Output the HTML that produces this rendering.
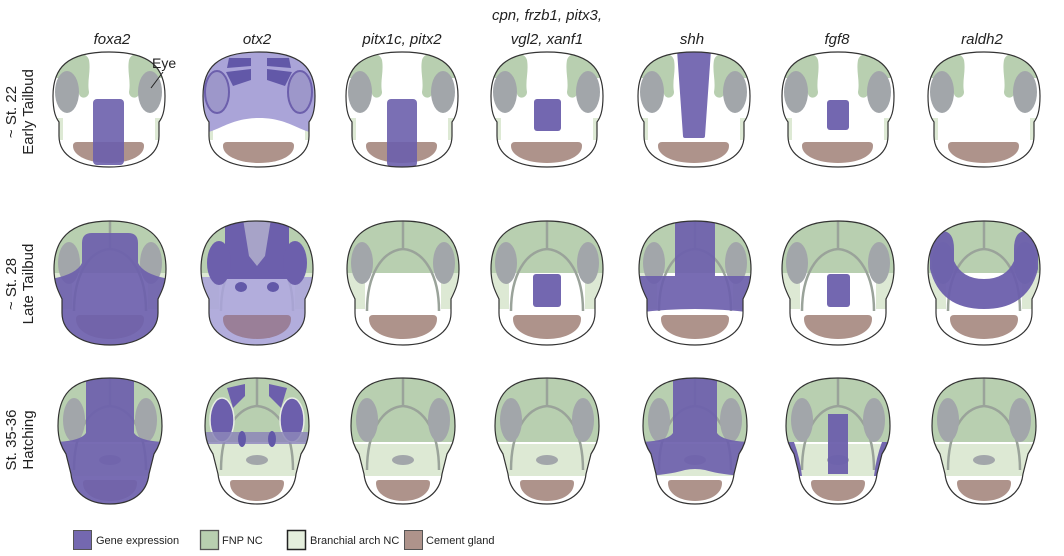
<!DOCTYPE html>
<html><head><meta charset="utf-8"><style>
html,body{margin:0;padding:0;background:#fff;}
svg{display:block;font-family:"Liberation Sans",sans-serif;}
</style></head><body>
<svg width="1064" height="556" viewBox="0 0 1064 556" xmlns="http://www.w3.org/2000/svg">
<defs>
<path id="oE" d="M0,0 C42,0 56,16 56,44 C56,60 53,66 50,70 L50,84 C50,104 30,115 0,115 C-30,115 -50,104 -50,84 L-50,70 C-53,66 -56,60 -56,44 C-56,16 -42,0 0,0 Z"/>
<path id="oL" d="M0,0 C42,0 56,20 56,48 C56,62 52,70 48,78 L48,92 C48,112 27,124 0,124 C-27,124 -48,112 -48,92 L-48,78 C-52,70 -56,62 -56,48 C-56,20 -42,0 0,0 Z"/>
<path id="oH" d="M0,0 C40,0 52,18 52,48 C52,62 48,70 44,76 L39,96 C37,115 22,126 0,126 C-22,126 -37,115 -39,96 L-44,76 C-48,70 -52,62 -52,48 C-52,18 -40,0 0,0 Z"/>
<clipPath id="cE"><use href="#oE"/></clipPath>
<clipPath id="cL"><use href="#oL"/></clipPath>
<clipPath id="cH"><use href="#oH"/></clipPath>
<g id="bE">
 <rect x="-60" y="-2" width="120" height="120" fill="#fff"/>
 <path d="M-38,2 C-28,0 -22,2 -20,8 C-18,20 -22,28 -20,40 C-20,46 -28,48 -30,42 C-32,32 -40,26 -52,26 L-58,22 C-54,10 -46,4 -38,2Z" fill="#b8cfb0"/>
 <path d="M38,2 C28,0 22,2 20,8 C18,20 22,28 20,40 C20,46 28,48 30,42 C32,32 40,26 52,26 L58,22 C54,10 46,4 38,2Z" fill="#b8cfb0"/>
 <rect x="-52" y="66" width="6" height="22" fill="#dde9d4"/>
 <rect x="46" y="66" width="6" height="22" fill="#dde9d4"/>
 <path d="M-36,94 Q-36,90 -32,90 L31,90 Q35,90 35,94 C35,104 20,111 0,111 C-20,111 -36,104 -36,94Z" fill="#ae938b"/>
</g>
<g id="eE" fill="#a2a6aa"><ellipse cx="-42" cy="40" rx="12" ry="21"/><ellipse cx="41" cy="40" rx="12" ry="21"/></g>
<g id="bL">
 <rect x="-60" y="-2" width="120" height="130" fill="#fff"/>
 <path d="M-60,-2 L60,-2 L60,62 L38,62 L38,52 L-38,52 L-38,62 L-60,62Z" fill="#b8cfb0"/>
 <rect x="-60" y="52" width="22" height="36" fill="#dde9d4"/>
 <rect x="38" y="52" width="22" height="36" fill="#dde9d4"/>
 <path d="M-34,98 Q-34,94 -30,94 L30,94 Q34,94 34,98 C34,110 19,118 0,118 C-19,118 -34,110 -34,98Z" fill="#ae938b"/>
 <path d="M0,0 L0,28 M0,28 C-22,30 -36,55 -36,90 M0,28 C22,30 36,55 36,90" stroke="#9aa39a" stroke-width="2.5" fill="none"/>
</g>
<g id="eL" fill="#a2a6aa"><ellipse cx="-41" cy="42" rx="11" ry="21"/><ellipse cx="41" cy="42" rx="11" ry="21"/></g>
<g id="bH">
 <rect x="-60" y="-2" width="120" height="132" fill="#fff"/>
 <rect x="-60" y="-2" width="120" height="66" fill="#b8cfb0"/>
 <rect x="-60" y="66" width="120" height="32" fill="#dde9d4"/>
 <path d="M0,0 L0,28 M0,28 C-22,30 -36,55 -36,92 M0,28 C22,30 36,55 36,92" stroke="#9aa39a" stroke-width="2.5" fill="none"/>
 <ellipse cx="0" cy="82" rx="11" ry="5" fill="#a2a6aa"/>
 <path d="M-27,105 Q-27,102 -24,102 L24,102 Q27,102 27,105 C27,116 15,123 0,123 C-15,123 -27,116 -27,105Z" fill="#ae938b"/>
</g>
<g id="eH" fill="#a2a6aa"><ellipse cx="-36" cy="42" rx="11" ry="22"/><ellipse cx="36" cy="42" rx="11" ry="22"/></g>
</defs>

<g font-style="italic" font-size="15" fill="#222" text-anchor="middle">
<text x="112" y="44">foxa2</text>
<text x="257" y="44">otx2</text>
<text x="402" y="44">pitx1c, pitx2</text>
<text x="547" y="20">cpn, frzb1, pitx3,</text>
<text x="547" y="44">vgl2, xanf1</text>
<text x="692" y="44">shh</text>
<text x="837" y="44">fgf8</text>
<text x="982" y="44">raldh2</text>
</g>
<g font-size="15" fill="#222" text-anchor="middle">
<text transform="translate(16,112) rotate(-90)">~ St. 22</text>
<text transform="translate(33,112) rotate(-90)">Early Tailbud</text>
<text transform="translate(16,284) rotate(-90)">~ St. 28</text>
<text transform="translate(33,284) rotate(-90)">Late Tailbud</text>
<text transform="translate(16,440) rotate(-90)">St. 35-36</text>
<text transform="translate(33,440) rotate(-90)">Hatching</text>
</g>

<!-- ROW 1 -->
<g transform="translate(109,52)"><g clip-path="url(#cE)"><use href="#bE"/><use href="#eE"/>
<rect x="-16" y="47" width="31" height="66" rx="4" fill="#6c5fac" opacity="0.9"/></g><use href="#oE" fill="none" stroke="#333" stroke-width="1.2"/></g>
<text x="152" y="68" font-size="14" fill="#222">Eye</text>
<line x1="163" y1="72" x2="151" y2="88" stroke="#222" stroke-width="1"/>

<g transform="translate(259,52)"><g clip-path="url(#cE)"><use href="#bE"/>
<path d="M-60,-2 L60,-2 L60,82 C40,80 30,66 0,66 C-30,66 -40,80 -60,82Z" fill="#aaa4d8"/>
<ellipse cx="-42" cy="40" rx="12" ry="21" fill="#9d97ca" stroke="#6c5fac" stroke-width="2"/>
<ellipse cx="41" cy="40" rx="12" ry="21" fill="#9d97ca" stroke="#6c5fac" stroke-width="2"/>
<path d="M-30,6 L-8,6 L-8,14 L-32,16Z M-33,20 L-8,17 L-8,28 L-26,34Z M30,6 L8,6 L8,14 L32,16Z M33,20 L8,17 L8,28 L26,34Z" fill="#6258a8"/>
</g><use href="#oE" fill="none" stroke="#333" stroke-width="1.2"/></g>

<g transform="translate(402,52)"><g clip-path="url(#cE)"><use href="#bE"/><use href="#eE"/>
<rect x="-15" y="47" width="30" height="68" rx="4" fill="#6c5fac" opacity="0.9"/></g><use href="#oE" fill="none" stroke="#333" stroke-width="1.2"/></g>

<g transform="translate(547,52)"><g clip-path="url(#cE)"><use href="#bE"/><use href="#eE"/>
<rect x="-13" y="47" width="27" height="32" rx="3" fill="#6c5fac" opacity="0.95"/></g><use href="#oE" fill="none" stroke="#333" stroke-width="1.2"/></g>

<g transform="translate(694,52)"><g clip-path="url(#cE)"><use href="#bE"/><use href="#eE"/>
<path d="M-17,-2 L17,-2 L11,84 Q11,86 9,86 L-9,86 Q-11,86 -11,84Z" fill="#6c5fac" opacity="0.92"/></g><use href="#oE" fill="none" stroke="#333" stroke-width="1.2"/></g>

<g transform="translate(838,52)"><g clip-path="url(#cE)"><use href="#bE"/><use href="#eE"/>
<rect x="-11" y="48" width="22" height="30" rx="3" fill="#6c5fac" opacity="0.95"/></g><use href="#oE" fill="none" stroke="#333" stroke-width="1.2"/></g>

<g transform="translate(984,52)"><g clip-path="url(#cE)"><use href="#bE"/><use href="#eE"/></g><use href="#oE" fill="none" stroke="#333" stroke-width="1.2"/></g>

<!-- ROW 2 -->
<g transform="translate(110,221)"><g clip-path="url(#cL)"><use href="#bL"/><use href="#eL"/>
<path d="M-28,22 Q-28,12 -18,12 L18,12 Q28,12 28,22 L28,42 Q34,54 60,58 L60,130 L-60,130 L-60,58 Q-34,54 -28,42Z" fill="#6c5fac" opacity="0.92"/></g><use href="#oL" fill="none" stroke="#333" stroke-width="1.2"/></g>

<g transform="translate(257,221)"><g clip-path="url(#cL)"><use href="#bL"/>
<rect x="-60" y="56" width="120" height="72" fill="#aaa4d8" opacity="0.9"/>
<path d="M-32,-2 L32,-2 L32,58 L-32,58Z" fill="#6c5fac"/>
<path d="M-14,-2 L14,-2 L8,35 L0,45 L-8,35Z" fill="#a7a3c8"/>
<ellipse cx="-38" cy="42" rx="12" ry="22" fill="#6c5fac"/><ellipse cx="38" cy="42" rx="12" ry="22" fill="#6c5fac"/>
<ellipse cx="-16" cy="66" rx="6" ry="5" fill="#6258a8"/><ellipse cx="16" cy="66" rx="6" ry="5" fill="#6258a8"/>
<path d="M-34,98 Q-34,94 -30,94 L30,94 Q34,94 34,98 C34,110 19,118 0,118 C-19,118 -34,110 -34,98Z" fill="#9a7f98"/>
</g><use href="#oL" fill="none" stroke="#333" stroke-width="1.2"/></g>

<g transform="translate(403,221)"><g clip-path="url(#cL)"><use href="#bL"/><use href="#eL"/></g><use href="#oL" fill="none" stroke="#333" stroke-width="1.2"/></g>

<g transform="translate(547,221)"><g clip-path="url(#cL)"><use href="#bL"/><use href="#eL"/>
<rect x="-14" y="53" width="28" height="33" rx="3" fill="#6c5fac" opacity="0.95"/></g><use href="#oL" fill="none" stroke="#333" stroke-width="1.2"/></g>

<g transform="translate(695,221)"><g clip-path="url(#cL)"><use href="#bL"/><use href="#eL"/>
<path d="M-20,-2 L20,-2 L20,55 L60,55 L60,92 Q30,88 0,88 Q-30,88 -60,92 L-60,55 L-20,55Z" fill="#6c5fac" opacity="0.92"/></g><use href="#oL" fill="none" stroke="#333" stroke-width="1.2"/></g>

<g transform="translate(838,221)"><g clip-path="url(#cL)"><use href="#bL"/><use href="#eL"/>
<rect x="-11" y="53" width="23" height="33" rx="3" fill="#6c5fac" opacity="0.95"/></g><use href="#oL" fill="none" stroke="#333" stroke-width="1.2"/></g>

<g transform="translate(984,221)"><g clip-path="url(#cL)"><use href="#bL"/><use href="#eL"/>
<path d="M-54,25 Q-54,10 -42,10 Q-30,10 -30,28 L-30,40 Q-22,58 0,58 Q22,58 30,40 L30,28 Q30,10 42,10 Q54,10 54,25 L54,48 Q44,88 0,88 Q-44,88 -54,48Z" fill="#6c5fac" opacity="0.95"/></g><use href="#oL" fill="none" stroke="#333" stroke-width="1.2"/></g>

<!-- ROW 3 -->
<g transform="translate(110,378)"><g clip-path="url(#cH)"><use href="#bH"/><use href="#eH"/>
<path d="M-24,-2 L24,-2 L24,55 Q30,64 60,64 L60,130 L-60,130 L-60,64 Q-30,64 -24,55Z" fill="#6c5fac" opacity="0.92"/></g><use href="#oH" fill="none" stroke="#333" stroke-width="1.2"/></g>

<g transform="translate(257,378)"><g clip-path="url(#cH)"><use href="#bH"/>
<ellipse cx="-35" cy="42" rx="12" ry="22" fill="#6c5fac" stroke="#e8eee4" stroke-width="1.5"/>
<ellipse cx="35" cy="42" rx="12" ry="22" fill="#6c5fac" stroke="#e8eee4" stroke-width="1.5"/>
<path d="M-30,10 L-12,6 L-12,18 L-24,30Z M30,10 L12,6 L12,18 L24,30Z" fill="#6c5fac"/>
<rect x="-60" y="54" width="120" height="12" fill="#8c86b8" opacity="0.85"/>
<ellipse cx="-15" cy="61" rx="4" ry="8" fill="#6258a8"/><ellipse cx="15" cy="61" rx="4" ry="8" fill="#6258a8"/>
</g><use href="#oH" fill="none" stroke="#333" stroke-width="1.2"/></g>

<g transform="translate(403,378)"><g clip-path="url(#cH)"><use href="#bH"/><use href="#eH"/></g><use href="#oH" fill="none" stroke="#333" stroke-width="1.2"/></g>

<g transform="translate(547,378)"><g clip-path="url(#cH)"><use href="#bH"/><use href="#eH"/></g><use href="#oH" fill="none" stroke="#333" stroke-width="1.2"/></g>

<g transform="translate(695,378)"><g clip-path="url(#cH)"><use href="#bH"/><use href="#eH"/>
<path d="M-22,-2 L22,-2 L22,55 Q28,64 60,64 L60,98 Q30,98 10,92 Q0,90 -10,92 Q-30,98 -60,98 L-60,64 Q-28,64 -22,55Z" fill="#6c5fac" opacity="0.92"/></g><use href="#oH" fill="none" stroke="#333" stroke-width="1.2"/></g>

<g transform="translate(838,378)"><g clip-path="url(#cH)"><use href="#bH"/><use href="#eH"/>
<rect x="-10" y="36" width="20" height="60" fill="#6c5fac" opacity="0.95"/>
<path d="M-60,64 L-44,64 Q-38,80 -36,98 L-60,98Z M60,64 L44,64 Q38,80 36,98 L60,98Z" fill="#6c5fac" opacity="0.95"/></g><use href="#oH" fill="none" stroke="#333" stroke-width="1.2"/></g>

<g transform="translate(984,378)"><g clip-path="url(#cH)"><use href="#bH"/><use href="#eH"/></g><use href="#oH" fill="none" stroke="#333" stroke-width="1.2"/></g>

<!-- Legend -->
<g font-size="11" fill="#222">
<rect x="73.5" y="530.5" width="18" height="19" fill="#7468b0" stroke="#555" stroke-width="1"/>
<text x="96" y="544">Gene expression</text>
<rect x="200.5" y="530.5" width="18" height="19" fill="#b8cfb0" stroke="#555" stroke-width="1.3"/>
<text x="222" y="544">FNP NC</text>
<rect x="287.5" y="530.5" width="18" height="19" fill="#e4eedc" stroke="#222" stroke-width="1.5"/>
<text x="310" y="544">Branchial arch NC</text>
<rect x="404.5" y="530.5" width="18" height="19" fill="#ae938b" stroke="#555" stroke-width="1"/>
<text x="426" y="544">Cement gland</text>
</g>
</svg>
</body></html>
